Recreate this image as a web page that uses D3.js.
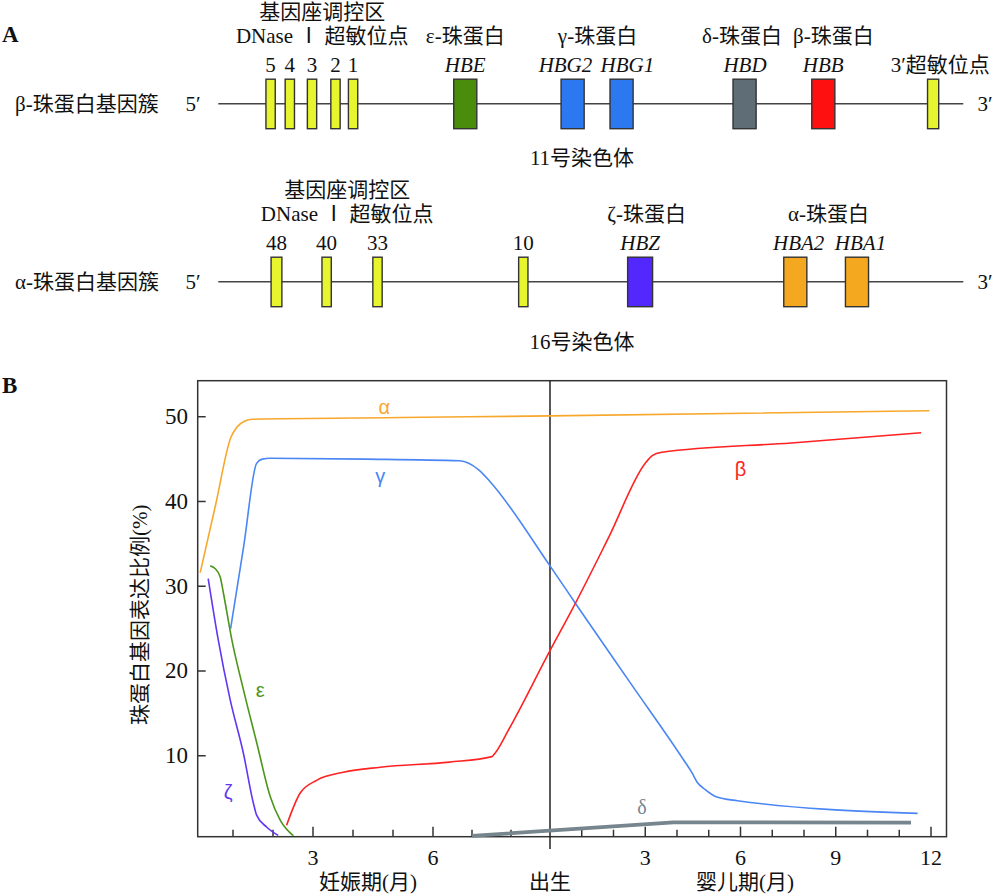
<!DOCTYPE html>
<html><head><meta charset="utf-8">
<script src="https://cdn.jsdelivr.net/npm/d3@7"></script>
<style>
body{margin:0;background:#fff;}
svg{display:block;}
text{fill:#111;}
</style></head><body>
<svg id="c" width="1000" height="894" font-family="'Liberation Serif','Times New Roman','Noto Sans CJK SC',serif"></svg>
<script>
// ---------- Panel A data (positions along cluster, 0-100 units) ----------
const betaSites = ["5","4","3","2","1","HBE","HBG2","HBG1","HBD","HBB","3HS"];
const betaPos   = [7.02, 9.6, 12.58, 15.73, 18.09, 33.15, 47.56, 54.13, 70.64, 81.21, 95.95];
const betaLen   = [1.25, 1.25, 1.25, 1.25, 1.25, 3.1, 3.1, 3.1, 3.1, 3.1, 1.5];
const betaKind  = ["hs","hs","hs","hs","hs","eps","gam","gam","del","bet","hs"];
const betaLabels = ["5","4","3","2","1","HBE","HBG2","HBG1","HBD","HBB","3′超敏位点"];
const betaLabelPos = [7.02, 9.6, 12.58, 15.73, 18.09, 33.15, 46.6, 54.9, 70.7, 81.2, 96.9];
const betaGroups = ["ε-珠蛋白","γ-珠蛋白","δ-珠蛋白","β-珠蛋白"];
const betaGroupPos = [33.15, 50.9, 70.3, 82.55];
const betaLcrPos = 13.95;

const alphaSites = ["48","40","33","10","HBZ","HBA2","HBA1"];
const alphaPos   = [7.81, 14.54, 21.37, 40.94, 56.62, 77.45, 85.73];
const alphaLen   = [1.45, 1.25, 1.25, 1.25, 3.35, 3.1, 3.1];
const alphaKind  = ["hs","hs","hs","hs","zet","alp","alp"];
const alphaLabels = ["48","40","33","10","HBZ","HBA2","HBA1"];
const alphaLabelPos = [7.81, 14.54, 21.37, 40.94, 56.62, 77.9, 86.2];
const alphaGroups = ["ζ-珠蛋白","α-珠蛋白"];
const alphaGroupPos = [57.5, 81.9];
const alphaLcrPos = 17.3;

// ---------- Panel B data: t = months since conception (birth = 9) ----------
const alphaT = [0.18, 0.56, 0.95, 1.1, 1.3, 1.48, 5.2, 9, 20.95];
const alphaV = [31.6, 39.5, 47.6, 48.8, 49.5, 49.7, 49.9, 50.1, 50.7];
const gammaT = [0.94, 1.27, 1.59, 1.73, 1.93, 4.3, 6.68, 7.18, 7.47, 9, 9.89, 11.53, 13.21, 13.47, 13.63, 13.89, 14.21, 14.9, 20.58];
const gammaV = [25.0, 34.8, 44.5, 45.0, 45.1, 45.0, 44.8, 43.7, 42.3, 32.4, 27.5, 18.6, 9.5, 8.0, 6.9, 6.0, 5.2, 4.7, 3.2];
const betaT  = [2.34, 2.68, 3.09, 3.76, 4.68, 6.43, 7.51, 7.59, 7.93, 9, 9.69, 10.84, 12.0, 12.22, 12.52, 16.6, 20.69];
const betaV  = [1.8, 5.6, 7.1, 8.05, 8.65, 9.25, 9.9, 10.3, 13.0, 22.4, 27.2, 35.7, 44.5, 45.4, 45.8, 46.9, 48.1];
const epsT   = [0.43, 0.55, 0.68, 0.76, 0.97, 1.26, 1.59, 1.93, 2.18, 2.51];
const epsV   = [32.4, 32.1, 31.1, 29.2, 23.7, 17.8, 11.6, 5.2, 2.4, 0.55];
const zetaT  = [0.38, 0.63, 0.93, 1.26, 1.51, 1.59, 1.84, 2.13];
const zetaV  = [30.9, 23.7, 16.6, 10.3, 4.4, 3.0, 1.6, 0.6];
const deltaT = [7.0, 12.89, 20.37];
const deltaV = [0.55, 2.15, 2.1];

const yTicks = [10, 20, 30, 40, 50];
const gestTicks = [1,2,3,4,5,6,7,8];
const gestLabels = [3, 6];
const infTicks = [1,2,3,4,5,6,7,8,9,10,11,12];
const infLabels = [3, 6, 9, 12];

const colors = {hs:"#e6f52e", eps:"#4a8c0c", gam:"#2b78f0", del:"#5f6d77", bet:"#ff1010", zet:"#5228ff", alp:"#f4a81f"};

const svg = d3.select("#c");

// ---------- Panel A ----------
const gx = d3.scaleLinear().domain([0, 100]).range([218.3, 963.3]);

function cluster(lineY, name, sites, pos, len, kind, labels, labelPos, groups, groupPos, lcrPos, topY, chrom, chromY) {
  svg.append("line").attr("x1", gx(0)).attr("x2", gx(100)).attr("y1", lineY).attr("y2", lineY)
     .attr("stroke", "#444").attr("stroke-width", 1.4);
  svg.append("text").attr("x", 15).attr("y", lineY).attr("dominant-baseline", "central")
     .attr("font-size", 21).text(name);
  svg.append("text").attr("x", 193).attr("y", lineY).attr("text-anchor", "middle").attr("dominant-baseline", "central")
     .attr("font-size", 21).text("5′");
  svg.append("text").attr("x", 985).attr("y", lineY).attr("text-anchor", "middle").attr("dominant-baseline", "central")
     .attr("font-size", 21).text("3′");
  svg.selectAll(null).data(sites).enter().append("rect")
     .attr("x", (d, i) => gx(pos[i] - len[i] / 2))
     .attr("width", (d, i) => gx(len[i]) - gx(0))
     .attr("y", lineY - 24.5).attr("height", 49.5)
     .attr("fill", (d, i) => colors[kind[i]])
     .attr("stroke", "#333").attr("stroke-width", 1.4);
  svg.selectAll(null).data(labels).enter().append("text")
     .attr("x", (d, i) => gx(labelPos[i])).attr("y", topY + 60)
     .attr("text-anchor", "middle").attr("dominant-baseline", "central")
     .attr("font-size", 21)
     .attr("font-style", d => /^HB/.test(d) ? "italic" : "normal")
     .text(d => d);
  svg.selectAll(null).data(groups).enter().append("text")
     .attr("x", (d, i) => gx(groupPos[i])).attr("y", topY + 31)
     .attr("text-anchor", "middle").attr("dominant-baseline", "central")
     .attr("font-size", 21).text(d => d);
  svg.append("text").attr("x", gx(lcrPos)).attr("y", topY + 7).attr("text-anchor", "middle")
     .attr("dominant-baseline", "central").attr("font-size", 21).text("基因座调控区");
  svg.append("text").attr("x", gx(lcrPos)).attr("y", topY + 31).attr("text-anchor", "middle")
     .attr("dominant-baseline", "central").attr("font-size", 21).text("DNase Ⅰ 超敏位点");
  svg.append("text").attr("x", 582).attr("y", chromY).attr("text-anchor", "middle")
     .attr("dominant-baseline", "central").attr("font-size", 21).text(chrom);
}
cluster(103.7, "β-珠蛋白基因簇", betaSites, betaPos, betaLen, betaKind, betaLabels, betaLabelPos,
        betaGroups, betaGroupPos, betaLcrPos, 5, "11号染色体", 158);
cluster(281.7, "α-珠蛋白基因簇", alphaSites, alphaPos, alphaLen, alphaKind, alphaLabels, alphaLabelPos,
        alphaGroups, alphaGroupPos, alphaLcrPos, 183, "16号染色体", 341.7);

svg.append("text").attr("x", 2).attr("y", 42).attr("font-size", 23).attr("font-weight", "bold").text("A");
svg.append("text").attr("x", 2).attr("y", 393).attr("font-size", 23).attr("font-weight", "bold").text("B");

// ---------- Panel B ----------
const L = 197.7, R = 946.5, T = 380.7, B = 836.7;
const x = d3.scaleLinear().domain([0, 6, 9, 21]).range([193, 433, 550, 931]);
const y = d3.scaleLinear().domain([0.45, 54.25]).range([B, T]);

svg.append("rect").attr("x", L).attr("y", T).attr("width", R - L).attr("height", B - T)
   .attr("fill", "none").attr("stroke", "#333").attr("stroke-width", 1.5);

// y ticks
svg.selectAll(null).data(yTicks).enter().append("line")
   .attr("x1", L).attr("x2", L + 8).attr("y1", d => y(d)).attr("y2", d => y(d))
   .attr("stroke", "#333").attr("stroke-width", 1.5);
svg.selectAll(null).data(yTicks).enter().append("text")
   .attr("x", 188).attr("y", d => y(d)).attr("text-anchor", "end").attr("dominant-baseline", "central")
   .attr("font-size", 23).text(d => d);
svg.append("text").attr("transform", `translate(140,${(T + B) / 2 + 6}) rotate(-90)`)
   .attr("text-anchor", "middle").attr("dominant-baseline", "central").attr("font-size", 21)
   .text("珠蛋白基因表达比例(%)");

// x ticks
svg.selectAll(null).data(gestTicks).enter().append("line")
   .attr("x1", d => x(d)).attr("x2", d => x(d)).attr("y1", B)
   .attr("y2", d => B - (gestLabels.includes(d) ? 10 : 7))
   .attr("stroke", "#333").attr("stroke-width", 1.5);
svg.selectAll(null).data(infTicks).enter().append("line")
   .attr("x1", d => x(9 + d)).attr("x2", d => x(9 + d)).attr("y1", B)
   .attr("y2", d => B - (infLabels.includes(d) ? 10 : 7))
   .attr("stroke", "#333").attr("stroke-width", 1.5);
svg.selectAll(null).data(gestLabels).enter().append("text")
   .attr("x", d => x(d)).attr("y", 857).attr("text-anchor", "middle").attr("dominant-baseline", "central")
   .attr("font-size", 22).text(d => d);
svg.selectAll(null).data(infLabels).enter().append("text")
   .attr("x", d => x(9 + d)).attr("y", 857).attr("text-anchor", "middle").attr("dominant-baseline", "central")
   .attr("font-size", 22).text(d => d);
svg.append("text").attr("x", 368).attr("y", 882).attr("text-anchor", "middle").attr("dominant-baseline", "central")
   .attr("font-size", 21).text("妊娠期(月)");
svg.append("text").attr("x", x(9)).attr("y", 882).attr("text-anchor", "middle").attr("dominant-baseline", "central")
   .attr("font-size", 21).text("出生");
svg.append("text").attr("x", 745).attr("y", 882).attr("text-anchor", "middle").attr("dominant-baseline", "central")
   .attr("font-size", 21).text("婴儿期(月)");

// birth line
svg.append("line").attr("x1", x(9)).attr("x2", x(9)).attr("y1", T).attr("y2", 849)
   .attr("stroke", "#222").attr("stroke-width", 1.5);

// curves
const smooth = d3.line().x(d => x(d[0])).y(d => y(d[1])).curve(d3.curveMonotoneX);
const straight = d3.line().x(d => x(d[0])).y(d => y(d[1]));
const series = [
  {t: alphaT, v: alphaV, c: "#f7a82c", w: 1.6, f: smooth},
  {t: gammaT, v: gammaV, c: "#4a86f4", w: 1.6, f: smooth},
  {t: betaT,  v: betaV,  c: "#ff2222", w: 1.6, f: smooth},
  {t: epsT,   v: epsV,   c: "#4c951a", w: 1.6, f: smooth},
  {t: zetaT,  v: zetaV,  c: "#6236f2", w: 1.6, f: smooth},
  {t: deltaT, v: deltaV, c: "#76858e", w: 3.8, f: straight}
];
svg.selectAll(null).data(series).enter().append("path")
   .attr("d", s => s.f(s.t.map((t, i) => [t, s.v[i]])))
   .attr("fill", "none").attr("stroke", s => s.c).attr("stroke-width", s => s.w)
   .attr("stroke-linejoin", "round");

// curve labels
const curveLabels = ["α", "γ", "β", "ε", "ζ", "δ"];
const curveLabelT = [4.78, 4.68, 15.0, 1.68, 0.88, 11.9];
const curveLabelV = [51.2, 43.0, 43.8, 17.7, 5.7, 3.9];
const curveLabelC = ["#f7a82c", "#4a86f4", "#ff2222", "#4c951a", "#6236f2", "#76858e"];
svg.selectAll(null).data(curveLabels).enter().append("text")
   .attr("x", (d, i) => x(curveLabelT[i])).attr("y", (d, i) => y(curveLabelV[i]))
   .attr("text-anchor", "middle").attr("dominant-baseline", "central")
   .attr("font-family", (d, i) => i === 5 ? "'Liberation Serif',serif" : "'Liberation Sans',Arial,sans-serif")
   .attr("font-size", 20).style("fill", (d, i) => curveLabelC[i]).text(d => d);
</script></body></html>
